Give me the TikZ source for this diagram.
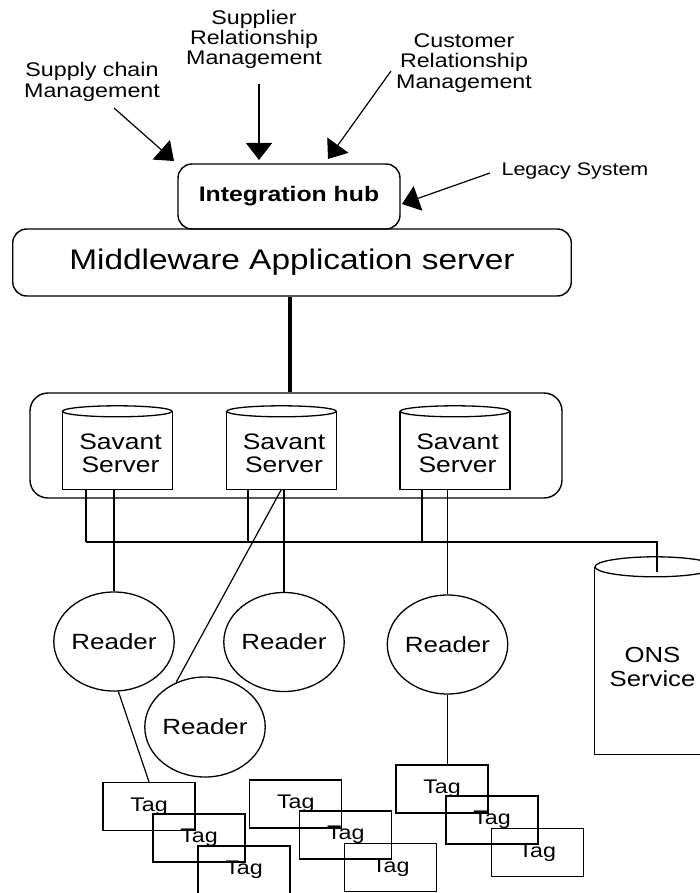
\documentclass[tikz,border=0pt]{standalone}
\usepackage{fontspec}
\setmainfont{Liberation Sans}[FakeStretch=1.18]
\usetikzlibrary{arrows.meta,shapes.geometric}
\begin{document}
\begin{tikzpicture}[x=1pt,y=-1pt,
  lbl/.style={align=center, font=\fontsize{19.7}{20.3}\selectfont, inner sep=0pt},
  rbox/.style={draw, line width=1.4pt, rounded corners=14pt, inner sep=0pt},
  thinl/.style={line width=1.2pt},
  bigarrow/.style={line width=1.2pt, -{Triangle[length=17pt,width=26pt]}},
  reader/.style={draw, line width=1.3pt, ellipse, inner sep=0pt, minimum height=99pt, font=\fontsize{22}{24}\selectfont},
  tagbox/.style={draw, line width=1.3pt, rectangle, inner sep=0pt, minimum width=92pt, minimum height=48pt, font=\fontsize{19.7}{20}\selectfont},
  cylbody/.style={inner sep=0pt, rectangle},
  cyltext/.style={align=center, inner sep=0pt, font=\fontsize{22.4}{23}\selectfont}
]
\useasboundingbox (0,0) rectangle (700,893);

% top labels
\node[lbl] (scm) at (92,82) {Supply chain\\Management};
\node[lbl] (srm) at (254,39.5) {Supplier\\Relationship\\Management};
\node[lbl] (crm) at (464,63) {Customer\\Relationship\\Management};
\node[lbl, font=\fontsize{18.2}{20}\selectfont] (legacy) at (575,171) {Legacy System};

% hub and middleware
\node[rbox, minimum width=222pt, minimum height=65pt, font=\fontsize{21}{22}\bfseries\selectfont] (hub) at (289,196.5) {Integration hub};
\node[rbox, minimum width=558.5pt, minimum height=67pt, font=\fontsize{28.3}{30}\selectfont] (mw) at (292,262.5) {Middleware Application server};

% arrows
\coordinate (scmA) at (114,108); \coordinate (scmB) at (174,161);
\coordinate (srmA) at (259,84);  \coordinate (srmB) at (259,160);
\coordinate (crmA) at (391,71);  \coordinate (crmB) at (328,159);
\coordinate (legA) at (490,173); \coordinate (legB) at (402,204);
\draw[bigarrow] (scmA) -- (scmB);
\draw[bigarrow] (srmA) -- (srmB);
\draw[bigarrow] (crmA) -- (crmB);
\draw[bigarrow] (legA) -- (legB);

% savant group
\node[draw, line width=1.4pt, rounded corners=18pt, inner sep=0pt, minimum width=532pt, minimum height=105pt] (group) at (296,445.5) {};
\coordinate (tx) at (290,0);
\draw[line width=4pt] (mw.south -| tx) -- (group.north -| tx);

% savant cylinders
\foreach \n/\cx/\tx in {1/117.25/120.5, 2/281.5/284, 3/455/457.5}{
  \node[cylbody, minimum width=109.5pt, minimum height=77.5pt] (sv\n) at (\cx,450.25) {};
  \draw[line width=1.3pt] (sv\n.north west) -- (sv\n.south west) -- (sv\n.south east) -- (sv\n.north east);
  \draw[line width=1.3pt] (sv\n.north) ellipse (54.75 and 5.5);
  \node[cyltext] (svt\n) at (\tx,453.5) {Savant\\Server};
}

% ONS cylinder
\node[cylbody, minimum width=120pt, minimum height=187pt] (ons) at (655,660.5) {};
\draw[line width=1.3pt] (ons.north west) -- (ons.south west) -- (ons.south east) -- (ons.north east);
\draw[line width=1.3pt] (ons.north) ellipse (60 and 10);
\node[cyltext, font=\fontsize{21.8}{24}\selectfont] (onst) at (652.5,667) {ONS\\Service};

% readers
\node[reader, minimum width=118pt] (rd1) at (114,641.5) {Reader};
\node[reader, minimum width=120pt] (rd2) at (284,642) {Reader};
\node[reader, minimum width=120pt] (rd3) at (447.5,644.5) {Reader};
\node[reader, minimum width=118pt, minimum height=100pt] (rd4) at (205,727) {Reader};

% bus
\coordinate (b1) at (86,542);
\coordinate (b2) at (248,542);
\coordinate (b3) at (422,542);
\coordinate (bE) at (657,542);
\coordinate (onsIn) at (657,572);
\draw[thinl] (b1) -- (bE) -- (onsIn);
\draw[thinl] (sv1.south -| b1) -- (b1);
\draw[thinl] (sv2.south -| b2) -- (b2);
\draw[thinl] (sv3.south -| b3) -- (b3);

% savant to readers
\draw[thinl] (sv1.south -| rd1.north) -- (rd1.north);
\draw[thinl] (sv2.south -| rd2.north) -- (rd2.north);
\draw[thinl] (sv3.south -| rd3.north) -- (rd3.north);
\draw[thinl] (sv2.south) -- (rd4.123);

% tags
\node[tagbox] (t1a) at (149,806.5) {Tag};
\node[tagbox] (t1b) at (199,838) {Tag};
\node[tagbox] (t1c) at (244,870) {Tag};
\node[tagbox] (t2a) at (295.75,804) {Tag};
\node[tagbox] (t2b) at (345.75,835) {Tag};
\node[tagbox] (t2c) at (390.8,867.5) {Tag};
\node[tagbox] (t3a) at (442,789) {Tag};
\node[tagbox] (t3b) at (492,820) {Tag};
\node[tagbox] (t3c) at (537.25,852.5) {Tag};

% readers to tags
\draw[thinl] (rd1.-85) -- (t1a.north);
\draw[thinl] (rd3.south) -- (rd3.south |- t3a.north);
\end{tikzpicture}
\end{document}
